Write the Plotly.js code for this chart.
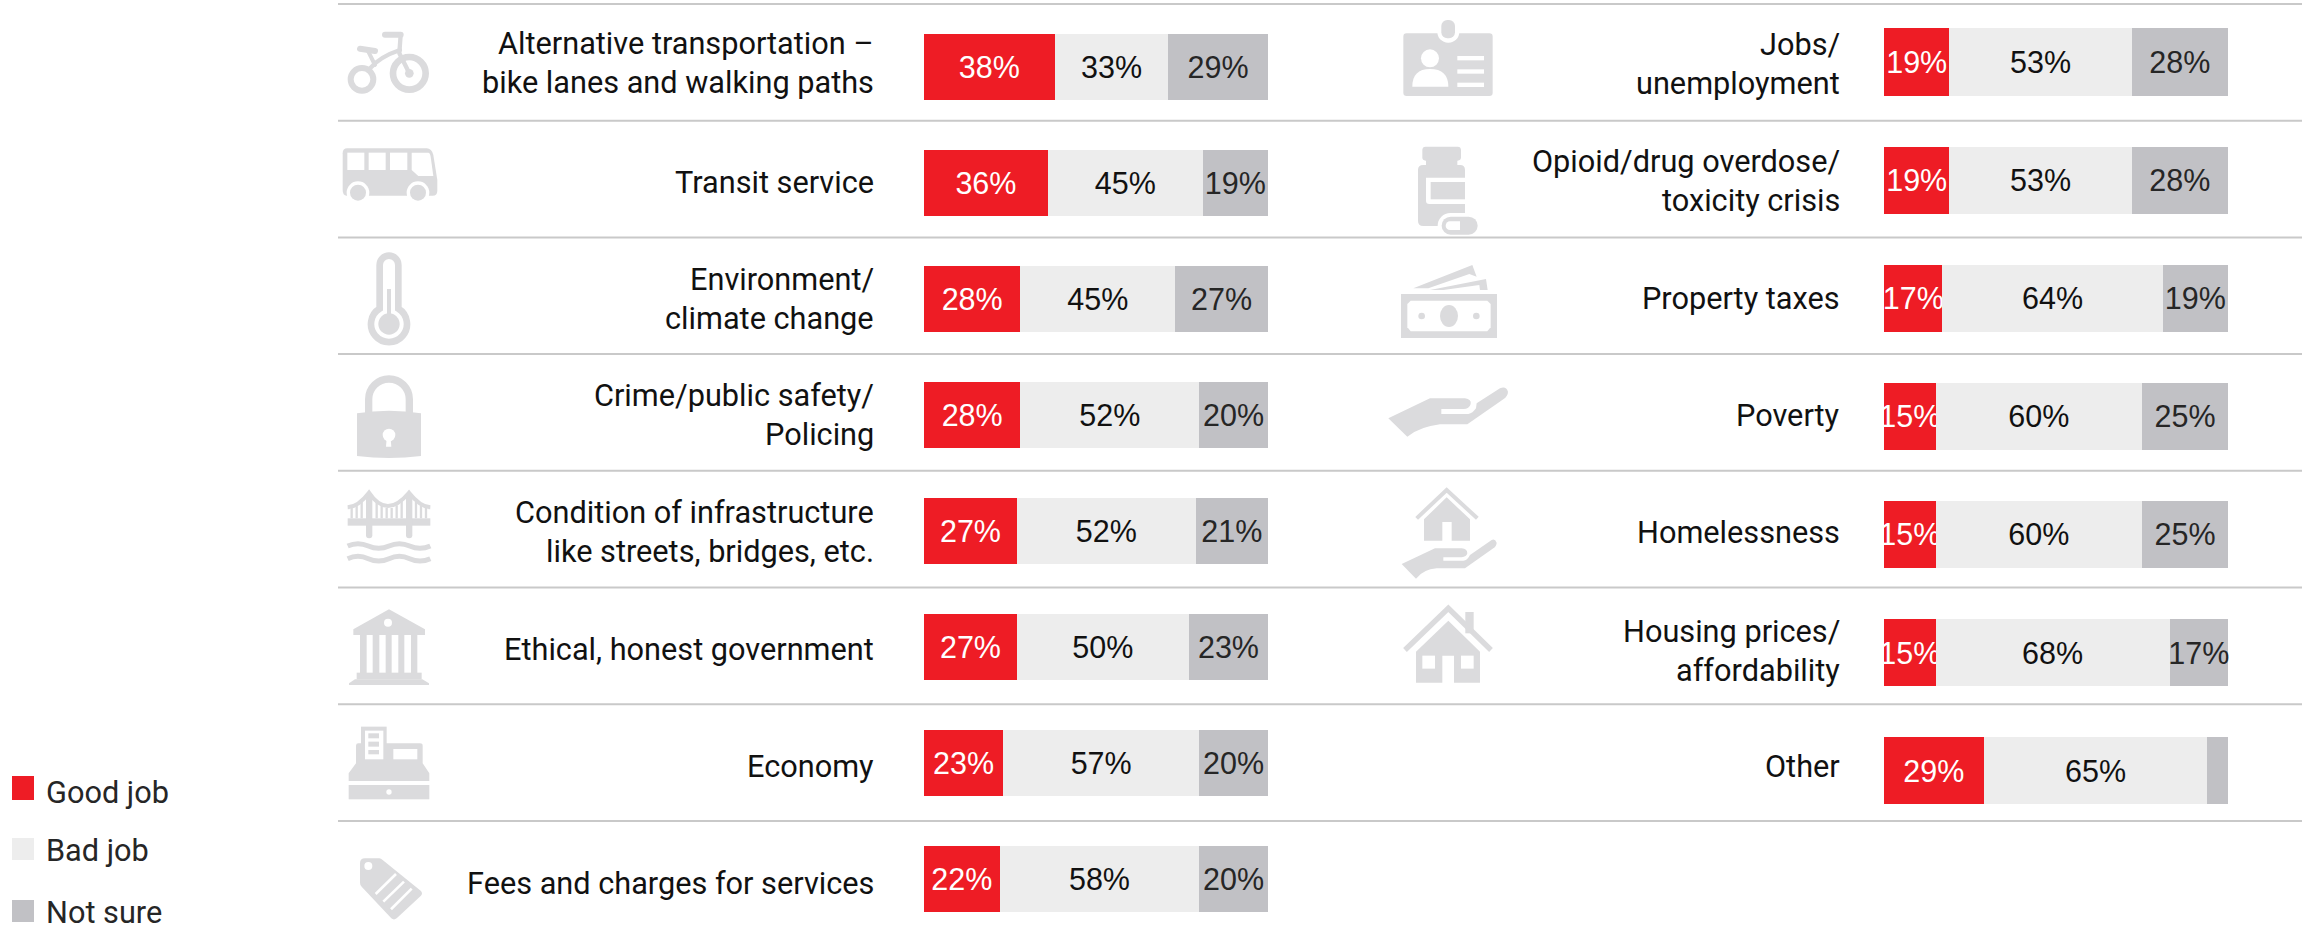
<!DOCTYPE html>
<html>
<head>
<meta charset="utf-8">
<script src="https://cdn.plot.ly/plotly-3.0.1.min.js"></script>
<style>html,body{margin:0;padding:0;background:#fff}#chart{width:2302px;height:933px}</style>
</head>
<body>
<div id="chart"></div>
<script>
const seriesNames = ['Good job', 'Bad job', 'Not sure'];
const seriesColors = ['#EE1C25', '#EDEDED', '#C1C1C5'];
const textColors = ['#FFFFFF', '#111111', '#262626'];

const leftCategories = [
  'Alternative transportation –\nbike lanes and walking paths',
  'Transit service',
  'Environment/\nclimate change',
  'Crime/public safety/\nPolicing',
  'Condition of infrastructure\nlike streets, bridges, etc.',
  'Ethical, honest government',
  'Economy',
  'Fees and charges for services'
];
const leftGood = [38, 36, 28, 28, 27, 27, 23, 22];
const leftBad = [33, 45, 45, 52, 52, 50, 57, 58];
const leftNotSure = [29, 19, 27, 20, 21, 23, 20, 20];

const rightCategories = [
  'Jobs/\nunemployment',
  'Opioid/drug overdose/\ntoxicity crisis',
  'Property taxes',
  'Poverty',
  'Homelessness',
  'Housing prices/\naffordability',
  'Other'
];
const rightGood = [19, 19, 17, 15, 15, 15, 29];
const rightBad = [53, 53, 64, 60, 60, 68, 65];
const rightNotSure = [28, 28, 19, 25, 25, 17, 6];
const rightNotSureLabels = ['28%', '28%', '19%', '25%', '25%', '17%', ''];

const W = 2302, H = 933;
const LABEL_FONT = 'Roboto, sans-serif';
const VALUE_FONT = '"Liberation Sans", Arial, sans-serif';
const px = v => v / W, py = v => 1 - v / H;

function pct(a) { return a.map(v => v + '%'); }
function barTrace(cats, vals, i, ax, text) {
  return {
    type: 'bar', orientation: 'h', y: cats, x: vals, name: seriesNames[i],
    xaxis: ax === 1 ? 'x' : 'x2', yaxis: ax === 1 ? 'y' : 'y2',
    marker: {color: seriesColors[i], line: {width: 0}},
    text: text || pct(vals), textposition: 'inside', insidetextanchor: 'middle',
    textangle: 0, constraintext: 'none', cliponaxis: false,
    textfont: {family: VALUE_FONT, size: 30.5, color: textColors[i]},
    showlegend: false, hoverinfo: 'skip'
  };
}
const data = [
  barTrace(leftCategories, leftGood, 0, 1),
  barTrace(leftCategories, leftBad, 1, 1),
  barTrace(leftCategories, leftNotSure, 2, 1),
  barTrace(rightCategories, rightGood, 0, 2),
  barTrace(rightCategories, rightBad, 1, 2),
  barTrace(rightCategories, rightNotSure, 2, 2, rightNotSureLabels)
];

// Row labels: one annotation per text line, tied to the category axis
const annotations = [];
function rowLabels(cats, xRight, yref, nudges) {
  cats.forEach((c, r) => {
    const lines = c.split('\n');
    lines.forEach((t, k) => {
      annotations.push({
        xref: 'paper', yref: yref, x: px(xRight), y: c, text: t,
        xanchor: 'right', yanchor: 'middle', showarrow: false,
        yshift: (lines.length === 2 ? (k === 0 ? 19.5 : -19.5) : 0) - nudges[r],
        font: {family: LABEL_FONT, size: 30.7, color: '#111111'}
      });
    });
  });
}
rowLabels(leftCategories, 876, 'y', [-4, -1, 0, 0, 1, 2, 3, 4]);
rowLabels(rightCategories, 1842, 'y2', [1.5, 1, 0, -1, -2, -2, -4]);

// Legend
const legendSwatch = [[776, 800], [838, 860], [900, 922]];
const legendTextY = [792, 850, 912];
const shapes = [];
seriesNames.forEach((n, i) => {
  shapes.push({type: 'rect', xref: 'paper', yref: 'paper', x0: px(12), x1: px(34),
    y0: py(legendSwatch[i][0]), y1: py(legendSwatch[i][1]), fillcolor: seriesColors[i], line: {width: 0}});
  annotations.push({xref: 'paper', yref: 'paper', x: px(43.5), y: py(legendTextY[i]), text: n,
    xanchor: 'left', yanchor: 'middle', showarrow: false,
    font: {family: LABEL_FONT, size: 30.7, color: '#262626'}});
});

// Row separators
const ruleY = [4, 120.7, 237.4, 354, 470.8, 587.5, 704.2, 821];
ruleY.forEach(y => shapes.push({type: 'line', xref: 'paper', yref: 'paper',
  x0: px(338), x1: 1, y0: py(y), y1: py(y), line: {color: '#C9C9C9', width: 2}}));

// Pictograms (decorative), each in a 3x local grid
const G = '#DBDBDD';
const iconBike = `<g fill="none" stroke="${G}" stroke-linecap="round" stroke-linejoin="round">
<circle cx="238" cy="220" r="49" stroke-width="20"/><circle cx="96" cy="238" r="34" stroke-width="18"/>
<path d="M165 104H212" stroke-width="18"/><path d="M212 104L208 160L238 220" stroke-width="13"/>
<path d="M120 205Q150 170 210 150" stroke-width="13"/><path d="M90 146L135 153" stroke-width="18"/>
<path d="M115 155L135 195" stroke-width="12"/></g><circle cx="238" cy="220" r="13" fill="${G}"/>`;
const iconBus = `<path fill="${G}" d="M52 445H290Q305 445 310 465L322 540V572Q322 587 308 587H50Q38 587 38 570V460Q38 445 52 445Z"/>
<g fill="#fff"><rect x="52" y="458" width="51" height="52"/><rect x="116" y="458" width="51" height="52"/><rect x="180" y="458" width="52" height="52"/>
<path d="M245 458H295Q300 458 302 470L310 528H265L245 510Z"/><circle cx="84" cy="578" r="34"/><circle cx="264" cy="578" r="34"/></g>
<circle cx="84" cy="578" r="24" fill="${G}"/><circle cx="264" cy="578" r="24" fill="${G}"/>`;
const iconThermo = `<path fill="none" stroke="${G}" stroke-width="20" d="M149 206V75A28 28 0 0 1 205 75V206A54 54 0 1 1 149 206Z"/>
<circle cx="177" cy="252" r="32" fill="${G}"/><rect x="171" y="147" width="12" height="105" fill="${G}"/>`;
const iconLock = `<path fill="none" stroke="${G}" stroke-width="22" d="M116 520V478A61 61 0 0 1 238 478V520"/>
<path fill="${G}" d="M81 520Q177 505 273 520V648Q177 660 81 648Z"/>
<circle cx="177" cy="585" r="19" fill="#fff"/><path fill="#fff" d="M170 595L168 620H184L182 595Z"/>`;
const iconBridge = `<g fill="${G}"><rect x="53" y="115" width="248" height="22"/><rect x="108" y="40" width="19" height="135" rx="9"/><rect x="228" y="40" width="19" height="135" rx="9"/></g>
<g fill="none" stroke="${G}"><path stroke-width="12" d="M53 82Q85 80 117 38Q170 118 237 38Q270 80 301 82"/>
<path stroke-width="7" d="M65 80V115M80 76V115M95 66V115M140 62V115M155 76V115M170 84V115M185 84V115M200 76V115M215 62V115M258 66V115M273 76V115M288 80V115"/>
<path stroke-width="15" d="M53 198Q84 184 115 198T177 198T239 198T301 198M53 236Q84 222 115 236T177 236T239 236T301 236"/></g>`;
const iconBank = `<g fill="${G}"><path d="M177 28L285 88V105H70V88Z"/><rect x="90" y="105" width="20" height="115"/><rect x="128" y="105" width="20" height="115"/><rect x="167" y="105" width="18" height="115"/><rect x="205" y="105" width="18" height="115"/><rect x="243" y="105" width="19" height="115"/>
<rect x="80" y="218" width="195" height="20"/><path d="M75 238H277L297 250V255H57V250Z"/></g><circle cx="174" cy="68" r="12" fill="#fff"/>`;
const iconRegister = `<g fill="${G}"><path d="M78 437Q78 430 85 430H270Q278 430 278 437V490L298 520V543H56V520L78 490Z"/><rect x="93" y="380" width="77" height="100"/><rect x="56" y="555" width="242" height="43"/></g>
<g fill="#fff"><rect x="105" y="392" width="55" height="86"/><rect x="190" y="447" width="72" height="31"/><circle cx="177" cy="576" r="8"/></g>
<g fill="${G}"><rect x="115" y="400" width="32" height="15"/><rect x="115" y="425" width="32" height="15"/><rect x="115" y="450" width="32" height="13"/></g>`;
const iconTag = `<path fill="${G}" d="M105 775H148Q153 775 158 780L272 872Q280 880 272 888L200 955Q192 962 184 955L95 860Q90 855 90 848V790Q90 775 105 775Z"/>
<circle cx="115" cy="798" r="12" fill="#fff"/><path fill="none" stroke="#fff" stroke-width="8" d="M198 822L137 882M222 845L160 905M245 866L183 928"/>`;
const iconBadge = `<rect x="70" y="100" width="268" height="188" rx="10" fill="${G}"/><rect x="172" y="50" width="66" height="78" rx="32" fill="#fff"/><rect x="184" y="60" width="41" height="55" rx="18" fill="${G}"/>
<g fill="#fff"><circle cx="150" cy="175" r="27"/><path d="M97 260Q97 207 150 207Q205 207 205 260Z"/><rect x="232" y="168" width="80" height="13"/><rect x="232" y="208" width="80" height="13"/><rect x="232" y="248" width="80" height="13"/></g>`;
const iconPills = `<g fill="${G}"><rect x="127" y="440" width="116" height="42" rx="10"/><rect x="138" y="480" width="94" height="18"/><path d="M130 495H240Q255 495 255 510V660H205V678H130Q114 678 114 662V510Q114 495 130 495Z"/></g>
<path fill="#fff" d="M138 533H255V612H148Q138 612 138 602Z"/><rect x="152" y="546" width="103" height="52" fill="${G}"/>
<rect x="173" y="639" width="130" height="76" rx="38" fill="#fff"/><rect x="185" y="650" width="108" height="54" rx="27" fill="${G}"/><path fill="#fff" d="M210 664H240V690H210A13 13 0 0 1 210 664Z"/>`;
const iconMoney = `<g fill="${G}"><rect x="63" y="162" width="288" height="132"/><path d="M100 145L277 75L290 110L268 102L145 145Z"/><path d="M150 150L318 117L323 150H300L298 135L190 150Z"/></g>
<path fill="#fff" d="M92 182H322L332 192V262L322 274H92L82 262V192Z"/><g fill="${G}"><ellipse cx="207" cy="228" rx="27" ry="33"/><circle cx="125" cy="228" r="10"/><circle cx="289" cy="228" r="10"/></g>`;
const iconHand = `<path fill="${G}" d="M25 535L150 475H255Q275 478 272 492Q268 507 250 507H184V522H265Q278 520 288 505L290 490L360 445Q378 437 384 455Q384 468 370 478L262 553H180Q120 560 82 590Z"/>`;
const iconHomeless = `<path fill="none" stroke="${G}" stroke-width="12" d="M110 115L200 30L292 115"/><path fill="${G}" d="M200 52L270 118V182H215V126H187V182H132V118Z"/>
<path fill="${G}" d="M65 252L165 205H245Q262 207 262 220Q260 230 245 232H190V242H250Q262 242 270 225L335 180Q345 175 350 188Q350 198 340 205L255 265H170Q130 268 108 296Z"/>`;
const iconHouse = `<path fill="none" stroke="${G}" stroke-width="16" d="M75 510L205 385L333 510"/><rect x="256" y="396" width="25" height="64" fill="${G}"/>
<path fill="${G}" d="M205 422L300 515V608H222V527H187V608H108V515Z"/><g fill="#fff"><rect x="127" y="527" width="38" height="39"/><rect x="243" y="527" width="38" height="39"/></g>`;

const place = (ox, oy, s) => `<g transform="translate(${ox} ${oy}) scale(0.3333)">${s}</g>`;
const iconSheet = `<svg xmlns="http://www.w3.org/2000/svg" width="${W}" height="${H}" viewBox="0 0 ${W} ${H}">` +
  place(330, 0, iconBike + iconBus) + place(330, 240, iconThermo + iconLock) + place(330, 480, iconBridge) +
  place(330, 600, iconBank + iconRegister + iconTag) + place(1380, 0, iconBadge + iconPills) +
  place(1380, 240, iconMoney + iconHand) + place(1380, 480, iconHomeless + iconHouse) + `</svg>`;

const layout = {
  width: W, height: H, margin: {l: 0, r: 0, t: 0, b: 0, pad: 0},
  paper_bgcolor: '#fff', plot_bgcolor: 'rgba(0,0,0,0)',
  barmode: 'stack', bargap: 0.431, showlegend: false,
  xaxis: {domain: [924 / W, 1268 / W], range: [0, 100], visible: false, fixedrange: true},
  xaxis2: {domain: [1884 / W, 2228 / W], range: [0, 100], visible: false, fixedrange: true},
  yaxis: {type: 'category', categoryorder: 'array', categoryarray: leftCategories,
    range: [(H - 67) / 116, -67 / 116], visible: false, anchor: 'x', fixedrange: true},
  yaxis2: {type: 'category', categoryorder: 'array', categoryarray: rightCategories,
    range: [(H - 62) / 118.1, -62 / 118.1], visible: false, anchor: 'x2', fixedrange: true},
  images: [{source: 'data:image/svg+xml;charset=utf-8,' + encodeURIComponent(iconSheet),
    xref: 'paper', yref: 'paper', x: 0, y: 1, sizex: 1, sizey: 1,
    xanchor: 'left', yanchor: 'top', sizing: 'stretch', layer: 'below'}],
  shapes, annotations
};
Plotly.newPlot('chart', data, layout, {displayModeBar: false, staticPlot: true});
</script>
</body>
</html>
